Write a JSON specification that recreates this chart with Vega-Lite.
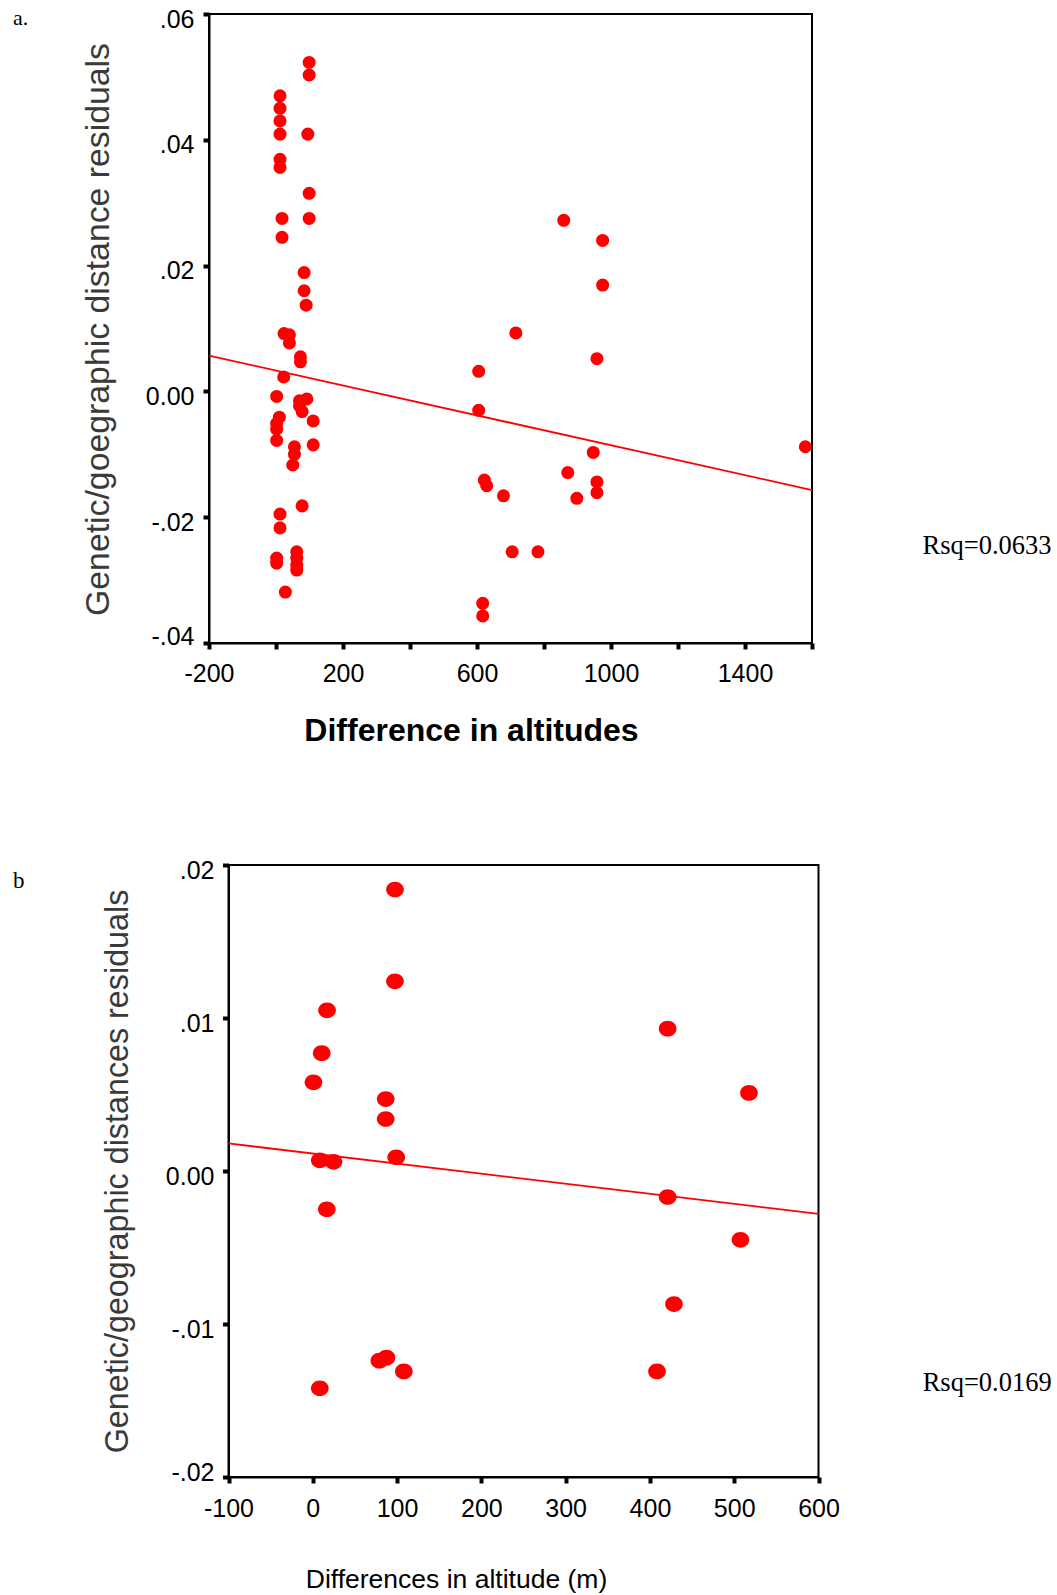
{
  "$schema": "https://vega.github.io/schema/vega-lite/v6.json",
  "padding": {"left": 12, "top": 6, "right": 0, "bottom": 0},
  "background": "white",
  "spacing": 111,
  "config": {
    "view": {"stroke": "black", "strokeWidth": 2},
    "axis": {
      "grid": false,
      "domainColor": "black",
      "domainWidth": 2,
      "tickColor": "black",
      "tickWidth": 4,
      "tickSize": 6,
      "labelFont": "Liberation Sans",
      "labelFontSize": 25,
      "labelColor": "black",
      "labelFlush": false,
      "labelOverlap": false,
      "titleFont": "Liberation Sans"
    }
  },
  "datasets": {
    "a_points": [
      {"alt_diff": 2, "residual": -0.0008}, {"alt_diff": 10, "residual": -0.0041}, {"alt_diff": 2, "residual": -0.0051},
      {"alt_diff": 2, "residual": -0.0060}, {"alt_diff": 2, "residual": -0.0078}, {"alt_diff": 2, "residual": -0.0265},
      {"alt_diff": 2, "residual": -0.0273},
      {"alt_diff": 12, "residual": 0.0470}, {"alt_diff": 12, "residual": 0.0450}, {"alt_diff": 12, "residual": 0.0430},
      {"alt_diff": 12, "residual": 0.0409}, {"alt_diff": 12, "residual": 0.0369}, {"alt_diff": 12, "residual": 0.0356},
      {"alt_diff": 12, "residual": -0.0195}, {"alt_diff": 12, "residual": -0.0217},
      {"alt_diff": 18, "residual": 0.0275}, {"alt_diff": 18, "residual": 0.0245},
      {"alt_diff": 24, "residual": 0.0092}, {"alt_diff": 23, "residual": 0.0023},
      {"alt_diff": 28, "residual": -0.0319},
      {"alt_diff": 40, "residual": 0.0090}, {"alt_diff": 40, "residual": 0.0077},
      {"alt_diff": 50, "residual": -0.0117},
      {"alt_diff": 55, "residual": -0.0088}, {"alt_diff": 55, "residual": -0.0100},
      {"alt_diff": 62, "residual": -0.0255}, {"alt_diff": 62, "residual": -0.0265}, {"alt_diff": 62, "residual": -0.0276},
      {"alt_diff": 62, "residual": -0.0284},
      {"alt_diff": 70, "residual": -0.0015}, {"alt_diff": 70, "residual": -0.0023},
      {"alt_diff": 73, "residual": 0.0055}, {"alt_diff": 73, "residual": 0.0047},
      {"alt_diff": 78, "residual": -0.0032}, {"alt_diff": 78, "residual": -0.0182},
      {"alt_diff": 84, "residual": 0.0189}, {"alt_diff": 84, "residual": 0.0160},
      {"alt_diff": 90, "residual": 0.0137},
      {"alt_diff": 92, "residual": -0.0012},
      {"alt_diff": 95, "residual": 0.0409},
      {"alt_diff": 99, "residual": 0.0523}, {"alt_diff": 99, "residual": 0.0503}, {"alt_diff": 99, "residual": 0.0315},
      {"alt_diff": 99, "residual": 0.0275},
      {"alt_diff": 111, "residual": -0.0047}, {"alt_diff": 111, "residual": -0.0085},
      {"alt_diff": 605, "residual": 0.0032}, {"alt_diff": 605, "residual": -0.0030},
      {"alt_diff": 617, "residual": -0.0337}, {"alt_diff": 617, "residual": -0.0357},
      {"alt_diff": 622, "residual": -0.0141}, {"alt_diff": 629, "residual": -0.0150},
      {"alt_diff": 679, "residual": -0.0166}, {"alt_diff": 705, "residual": -0.0255},
      {"alt_diff": 716, "residual": 0.0093}, {"alt_diff": 782, "residual": -0.0255},
      {"alt_diff": 859, "residual": 0.0272}, {"alt_diff": 871, "residual": -0.0129},
      {"alt_diff": 898, "residual": -0.0170}, {"alt_diff": 947, "residual": -0.0097},
      {"alt_diff": 958, "residual": 0.0052}, {"alt_diff": 958, "residual": -0.0144},
      {"alt_diff": 958, "residual": -0.0161}, {"alt_diff": 975, "residual": 0.0240},
      {"alt_diff": 975, "residual": 0.0169}, {"alt_diff": 1580, "residual": -0.0088}
    ],
    "a_fit": [
      {"alt_diff": -200, "residual": 0.00568},
      {"alt_diff": 1600, "residual": -0.01568}
    ],
    "b_points": [
      {"alt_diff": 97.5, "residual": 0.0184}, {"alt_diff": 97.5, "residual": 0.0124},
      {"alt_diff": 16.9, "residual": 0.0105}, {"alt_diff": 10.6, "residual": 0.0077},
      {"alt_diff": 0.8, "residual": 0.0058}, {"alt_diff": 86.5, "residual": 0.0047},
      {"alt_diff": 86.5, "residual": 0.0034}, {"alt_diff": 99, "residual": 0.0009},
      {"alt_diff": 8.3, "residual": 0.0007}, {"alt_diff": 24.6, "residual": 0.0006},
      {"alt_diff": 16.6, "residual": -0.0025}, {"alt_diff": 79, "residual": -0.0124},
      {"alt_diff": 87.4, "residual": -0.0122}, {"alt_diff": 108, "residual": -0.0131},
      {"alt_diff": 8.3, "residual": -0.0142}, {"alt_diff": 421, "residual": 0.0093},
      {"alt_diff": 517.5, "residual": 0.0051}, {"alt_diff": 421, "residual": -0.0017},
      {"alt_diff": 507.4, "residual": -0.0045}, {"alt_diff": 428.5, "residual": -0.0087},
      {"alt_diff": 408.4, "residual": -0.0131}
    ],
    "b_fit": [
      {"alt_diff": -100, "residual": 0.0018},
      {"alt_diff": 600, "residual": -0.0028}
    ]
  },
  "vconcat": [
    {
      "width": 603,
      "height": 629,
      "layer": [
        {
          "data": {"name": "a_points"},
          "mark": {"type": "circle", "color": "#ff0000", "opacity": 1, "size": 170},
          "encoding": {
            "x": {
              "field": "alt_diff", "type": "quantitative",
              "scale": {"domain": [-200, 1600], "nice": false, "zero": false},
              "axis": {
                "values": [-200, 0, 200, 400, 600, 800, 1000, 1200, 1400, 1600],
                "labelExpr": "indexof([-200, 200, 600, 1000, 1400], datum.value) >= 0 ? (datum.value < 0 ? '-' : '') + abs(datum.value) : ''",
                "labelPadding": 12,
                "title": "Difference in altitudes",
                "titleFontSize": 32,
                "titleFontWeight": "bold",
                "titleColor": "black",
                "titleX": 262,
                "titleY": 87,
                "titleAlign": "center",
                "titleBaseline": "middle"
              }
            },
            "y": {
              "field": "residual", "type": "quantitative",
              "scale": {"domain": [-0.04, 0.06], "nice": false, "zero": false},
              "axis": {
                "values": [-0.04, -0.02, 0, 0.02, 0.04, 0.06],
                "labelExpr": "datum.value == 0 ? '0.00' : (datum.value < 0 ? '-' : '') + replace(format(abs(datum.value), '.2f'), '0.', '.')",
                "labelPadding": 9,
                "labelOffset": {"condition": {"test": "datum.value < -0.035", "value": -7}, "value": 5},
                "title": "Genetic/goegraphic distance residuals",
                "titleFontSize": 33.8,
                "titleFontWeight": "normal",
                "titleColor": "#3a3a3a",
                "titleAngle": -90,
                "titleX": -111,
                "titleY": 315,
                "titleAlign": "center",
                "titleBaseline": "middle"
              }
            }
          }
        },
        {
          "data": {"name": "a_fit"},
          "mark": {"type": "line", "color": "#ff0000", "strokeWidth": 1.8},
          "encoding": {
            "x": {"field": "alt_diff", "type": "quantitative"},
            "y": {"field": "residual", "type": "quantitative"}
          }
        },
        {
          "data": {"values": [{}]},
          "mark": {"type": "text", "text": "a.", "font": "Liberation Serif", "fontSize": 22, "align": "left", "baseline": "alphabetic", "color": "black"},
          "encoding": {"x": {"datum": -785}, "y": {"datum": 0.05825}}
        },
        {
          "data": {"values": [{}]},
          "mark": {"type": "text", "text": "Rsq=0.0633", "font": "Liberation Serif", "fontSize": 26.5, "align": "left", "baseline": "middle", "color": "black"},
          "encoding": {"x": {"datum": 1930}, "y": {"datum": -0.0246}}
        }
      ]
    },
    {
      "width": 609.5,
      "height": 612,
      "view": {"stroke": null},
      "layer": [
        {
          "data": {"values": [{}]},
          "mark": {"type": "rect", "filled": false, "fill": null, "stroke": "black", "strokeWidth": 2},
          "encoding": {
            "x": {"datum": -100}, "x2": {"datum": 600},
            "y": {"datum": -0.02}, "y2": {"datum": 0.02}
          }
        },
        {
          "data": {"name": "b_points"},
          "mark": {"type": "point", "shape": "M-1,0A1,0.887,0,1,1,1,0A1,0.887,0,1,1,-1,0Z", "filled": true, "color": "#ff0000", "opacity": 1, "size": 313},
          "encoding": {
            "x": {
              "field": "alt_diff", "type": "quantitative",
              "scale": {"domain": [-100, 600], "range": [19.5, 609.5], "nice": false, "zero": false},
              "axis": {
                "values": [-100, 0, 100, 200, 300, 400, 500, 600],
                "labelExpr": "(datum.value < 0 ? '-' : '') + abs(datum.value)",
                "labelPadding": 13,
                "title": "Differences in altitude (m)",
                "titleFontSize": 26.5,
                "titleFontWeight": "normal",
                "titleColor": "black",
                "titleX": 247,
                "titleY": 102,
                "titleAlign": "center",
                "titleBaseline": "middle"
              }
            },
            "y": {
              "field": "residual", "type": "quantitative",
              "scale": {"domain": [-0.02, 0.02], "nice": false, "zero": false},
              "axis": {
                "offset": -19.5,
                "values": [-0.02, -0.01, 0, 0.01, 0.02],
                "labelExpr": "datum.value == 0 ? '0.00' : (datum.value < 0 ? '-' : '') + replace(format(abs(datum.value), '.2f'), '0.', '.')",
                "labelPadding": 8.5,
                "labelOffset": {"condition": {"test": "datum.value < -0.015", "value": -5}, "value": 5},
                "title": "Genetic/geographic distances residuals",
                "titleFontSize": 32.3,
                "titleFontWeight": "normal",
                "titleColor": "#3a3a3a",
                "titleAngle": -90,
                "titleX": -111.5,
                "titleY": 306,
                "titleAlign": "center",
                "titleBaseline": "middle"
              }
            }
          }
        },
        {
          "data": {"name": "b_fit"},
          "mark": {"type": "line", "color": "#ff0000", "strokeWidth": 1.8},
          "encoding": {
            "x": {"field": "alt_diff", "type": "quantitative"},
            "y": {"field": "residual", "type": "quantitative"}
          }
        },
        {
          "data": {"values": [{}]},
          "mark": {"type": "text", "text": "b", "font": "Liberation Serif", "fontSize": 23, "align": "left", "baseline": "alphabetic", "color": "black"},
          "encoding": {"x": {"datum": -355.7}, "y": {"datum": 0.0185}}
        },
        {
          "data": {"values": [{}]},
          "mark": {"type": "text", "text": "Rsq=0.0169", "font": "Liberation Serif", "fontSize": 26.5, "align": "left", "baseline": "middle", "color": "black"},
          "encoding": {"x": {"datum": 723.6}, "y": {"datum": -0.01387}}
        }
      ]
    }
  ]
}
